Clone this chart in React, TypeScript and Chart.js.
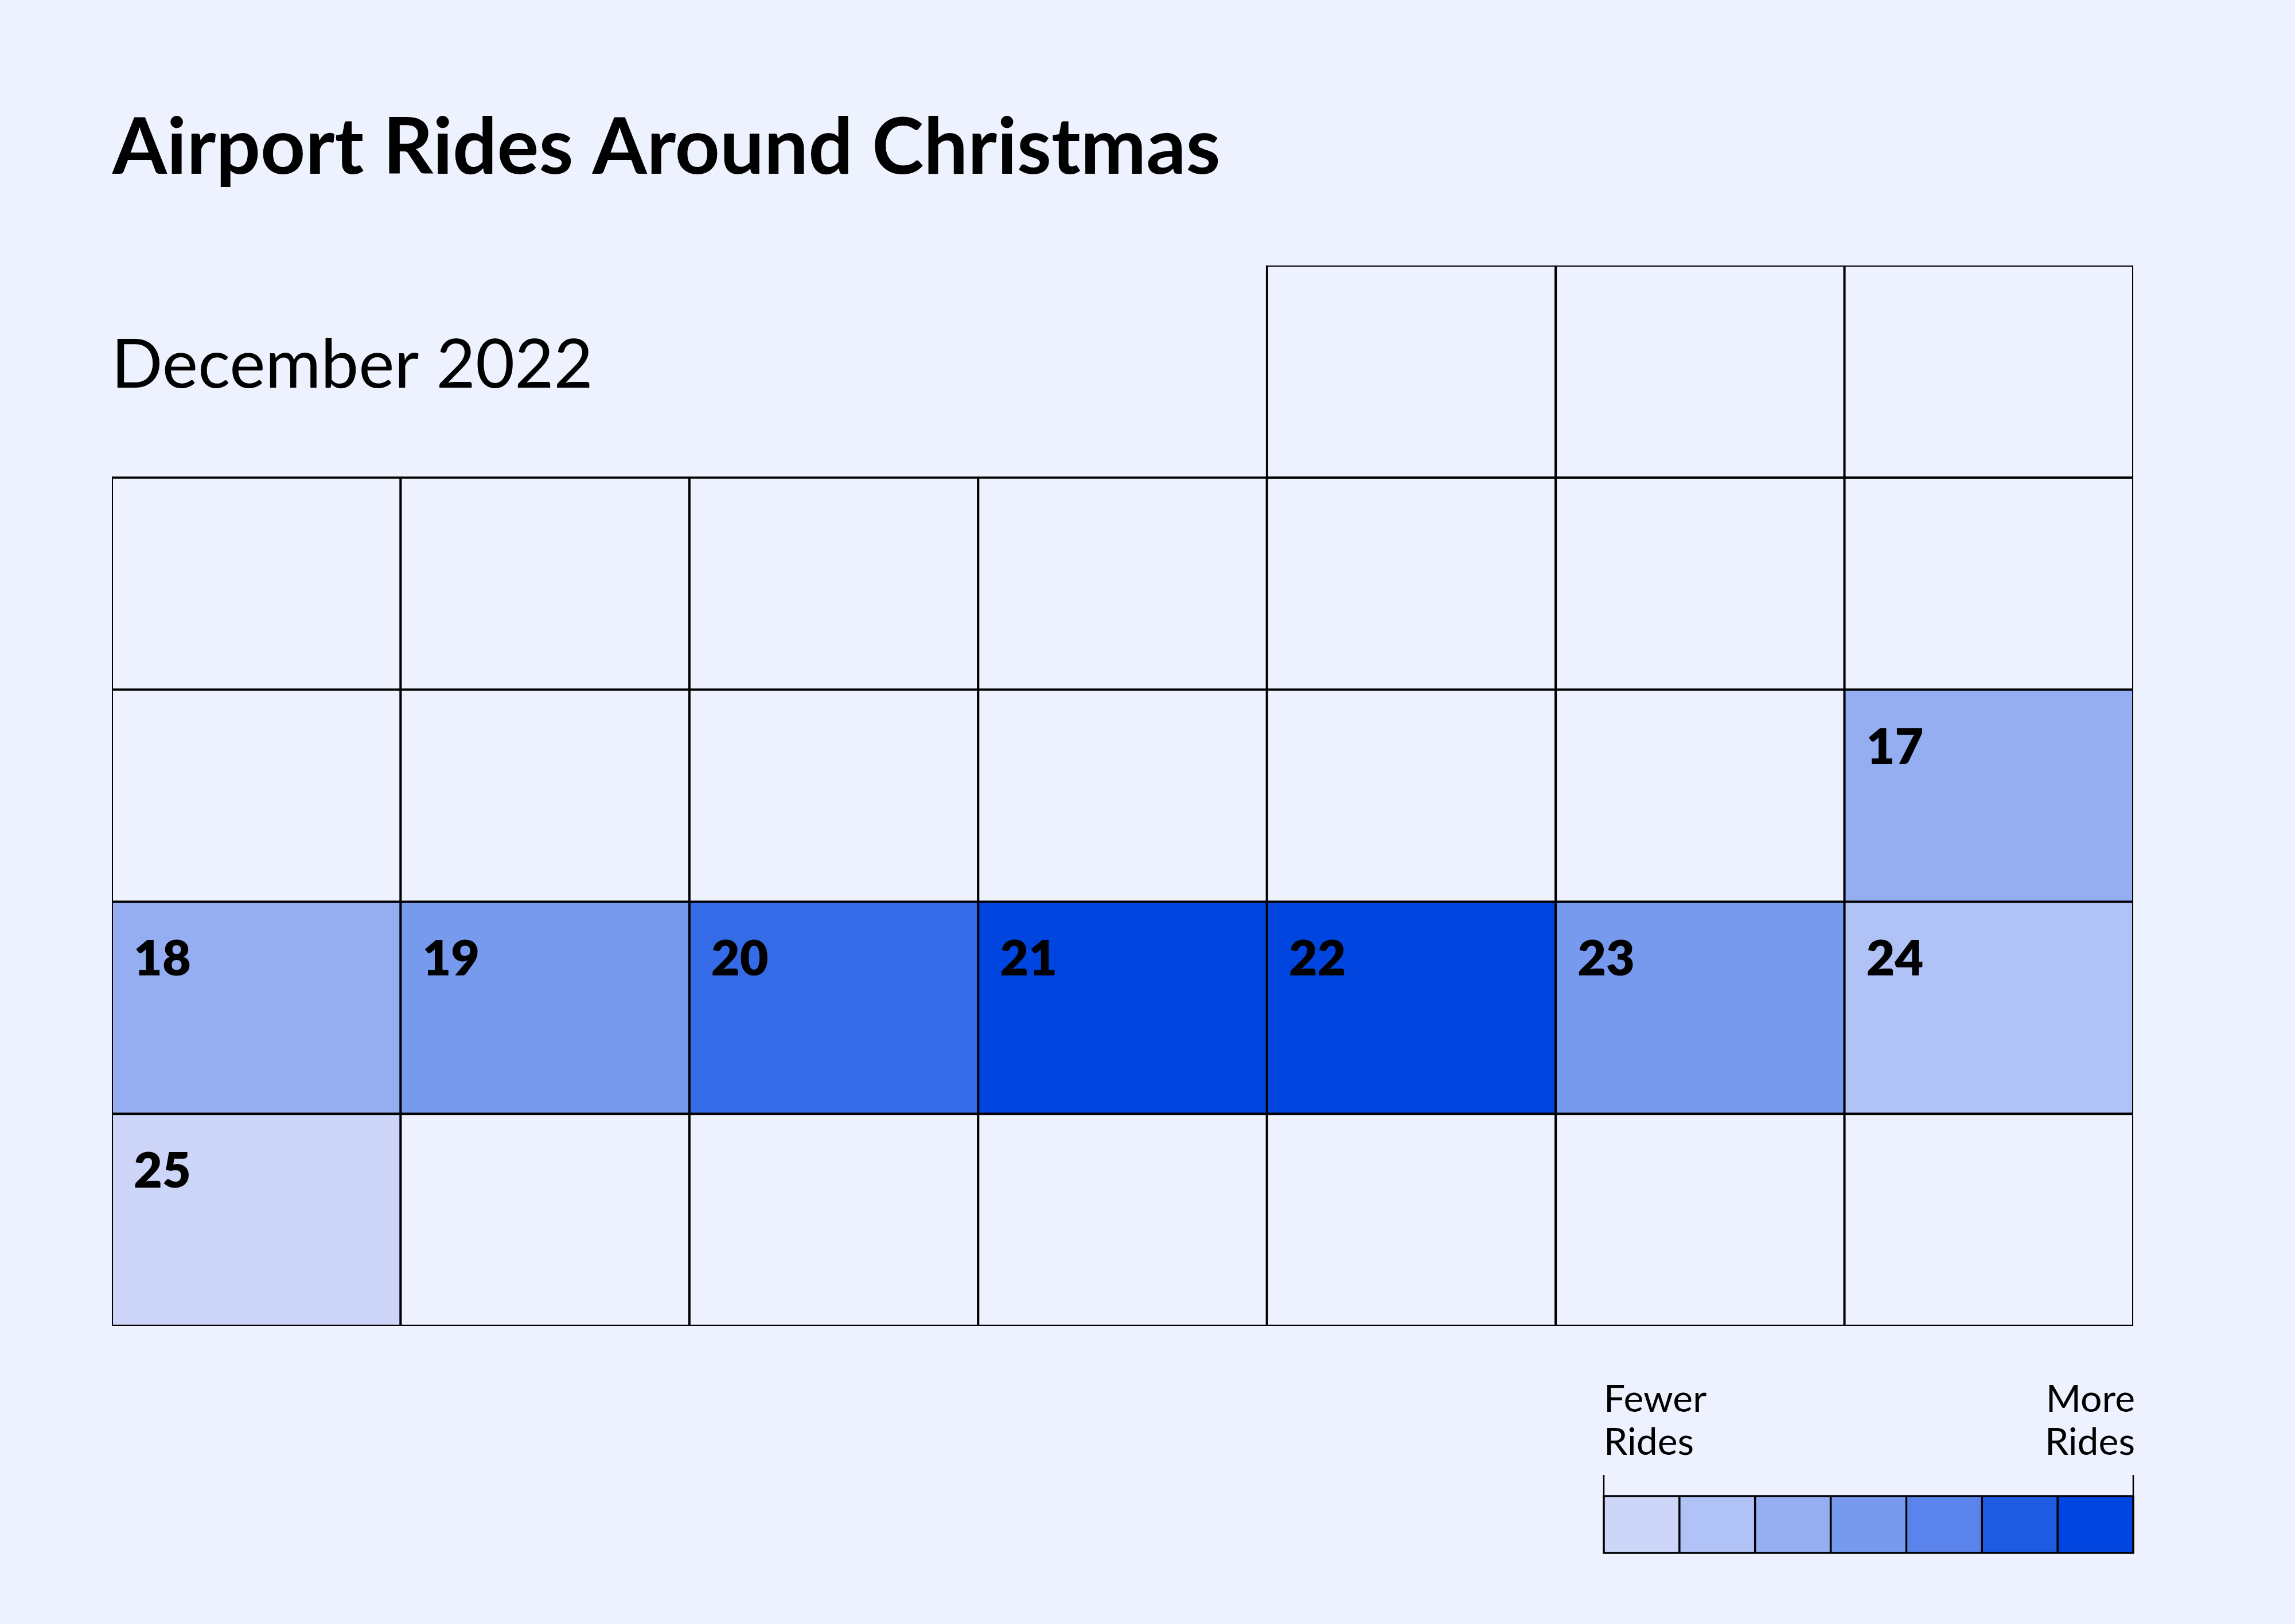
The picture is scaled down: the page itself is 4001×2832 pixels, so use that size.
import React, { useEffect, useRef } from "react";
import { Chart, registerables } from "chart.js";
Chart.register(...registerables);

const weekdays = ["Sun", "Mon", "Tue", "Wed", "Thu", "Fri", "Sat"];
const chartTitle = "Airport Rides Around Christmas";
const monthTitle = "December 2022";
const firstWeekday = 4; // 1 Dec 2022 = Thursday
const daysInMonth = 31;
const weeksShown = 5;
const highlightedDays = [17, 18, 19, 20, 21, 22, 23, 24, 25];
const rideLevels = [3, 3, 4, 5.6, 7, 7, 4, 2, 1]; // 1 = fewest rides, 7 = most rides
const legendColors = ["#CDD5F9", "#B0C2F6", "#94AEF1", "#7799EE", "#5A84EB", "#1D5BE3", "#0045DF"];
const legendLow = ["Fewer", "Rides"];
const legendHigh = ["More", "Rides"];

const BG = "#EEF2FE";
const FONT = "Lato, 'Open Sans', sans-serif";

function dayFor(week: number, wd: number) {
  const d = week * 7 + wd - firstWeekday + 1;
  return d >= 1 && d <= daysInMonth ? d : null;
}

function hexToRgb(h: string) {
  const n = parseInt(h.slice(1), 16);
  return [(n >> 16) & 255, (n >> 8) & 255, n & 255];
}

function levelColor(level: number) {
  const t = Math.max(0, Math.min(legendColors.length - 1, level - 1));
  const i = Math.min(Math.floor(t), legendColors.length - 2);
  const f = t - i;
  const a = hexToRgb(legendColors[i]);
  const b = hexToRgb(legendColors[i + 1]);
  const c = a.map((v, k) => Math.round(v + (b[k] - v) * f));
  return `rgb(${c[0]},${c[1]},${c[2]})`;
}

function fitFont(ctx: CanvasRenderingContext2D, text: string, weight: string, base: number, target: number) {
  ctx.font = `${weight} ${base}px ${FONT}`;
  const w = ctx.measureText(text).width;
  const size = base * target / w;
  return `${weight} ${size}px ${FONT}`;
}

export default function App() {
  const ref = useRef<HTMLCanvasElement>(null);
  useEffect(() => {
    const canvas = ref.current!;
    const datasets = [];
    for (let w = 0; w < weeksShown; w++) {
      datasets.push({
        label: `Week ${w + 1}`,
        data: weekdays.map((_, d) => (dayFor(w, d) !== null ? [w, w + 1] : null)),
        backgroundColor: (c: any) => {
          const day = dayFor(c.datasetIndex, c.dataIndex);
          const idx = day === null ? -1 : highlightedDays.indexOf(day);
          return idx < 0 ? BG : levelColor(rideLevels[idx]);
        },
        borderColor: "#000000",
        borderWidth: 4,
        borderSkipped: false,
        inflateAmount: 2,
        barPercentage: 1,
        categoryPercentage: 1,
        grouped: false,
      });
    }

    const decor = {
      id: "decor",
      beforeDraw(chart: any) {
        const ctx = chart.ctx;
        ctx.save();
        ctx.fillStyle = BG;
        ctx.fillRect(0, 0, chart.width, chart.height);
        ctx.restore();
      },
      afterDatasetsDraw(chart: any) {
        const ctx = chart.ctx;
        ctx.save();
        ctx.fillStyle = "#000";
        ctx.textBaseline = "alphabetic";
        ctx.textAlign = "left";
        ctx.font = `800 86px ${FONT}`;
        chart.data.datasets.forEach((ds: any, di: number) => {
          const meta = chart.getDatasetMeta(di);
          meta.data.forEach((el: any, i: number) => {
            const day = dayFor(di, i);
            if (day === null || highlightedDays.indexOf(day) < 0) return;
            const left = el.x - el.width / 2;
            const top = Math.min(el.y, el.base);
            ctx.fillText(String(day), left + 38, top + 129);
          });
        });
        ctx.restore();
      },
      afterDraw(chart: any) {
        const ctx = chart.ctx;
        ctx.save();
        ctx.fillStyle = "#000";
        ctx.textAlign = "left";
        ctx.textBaseline = "alphabetic";
        ctx.font = fitFont(ctx, chartTitle, "700", 122, 1932);
        ctx.fillText(chartTitle, 196, 303);
        ctx.font = fitFont(ctx, monthTitle, "400", 110, 840);
        ctx.fillText(monthTitle, 194, 676);

        // legend
        const lx0 = 2796, lx1 = 3719, ly0 = 2609, ly1 = 2708;
        const bw = (lx1 - lx0) / legendColors.length;
        legendColors.forEach((c, i) => {
          ctx.fillStyle = c;
          ctx.fillRect(lx0 + i * bw, ly0, bw, ly1 - ly0);
        });
        ctx.strokeStyle = "#000";
        ctx.lineWidth = 3.5;
        ctx.beginPath();
        for (let i = 0; i <= legendColors.length; i++) {
          const x = lx0 + i * bw;
          ctx.moveTo(x, ly0);
          ctx.lineTo(x, ly1);
        }
        ctx.moveTo(lx0 - 1.75, ly0);
        ctx.lineTo(lx1 + 1.75, ly0);
        ctx.moveTo(lx0 - 1.75, ly1);
        ctx.lineTo(lx1 + 1.75, ly1);
        ctx.stroke();
        ctx.lineWidth = 2.5;
        ctx.beginPath();
        ctx.moveTo(lx0, 2572);
        ctx.lineTo(lx0, ly0);
        ctx.moveTo(lx1, 2572);
        ctx.lineTo(lx1, ly0);
        ctx.stroke();

        ctx.fillStyle = "#000";
        ctx.font = `400 66px ${FONT}`;
        ctx.textAlign = "left";
        ctx.fillText(legendLow[0], lx0, 2462);
        ctx.fillText(legendLow[1], lx0, 2537);
        ctx.textAlign = "right";
        ctx.fillText(legendHigh[0], lx1 + 3, 2462);
        ctx.fillText(legendHigh[1], lx1 + 3, 2537);
        ctx.restore();
      },
    };

    const chart = new Chart(canvas, {
      type: "bar",
      data: { labels: weekdays, datasets: datasets as any },
      options: {
        animation: false,
        responsive: false,
        devicePixelRatio: 1,
        layout: { padding: { left: 195, right: 4001 - 3719, top: 463, bottom: 2832 - 2312 } },
        plugins: { legend: { display: false }, tooltip: { enabled: false }, title: { display: false } },
        scales: {
          x: { type: "category", display: false, grid: { display: false } },
          y: { type: "linear", min: 0, max: weeksShown, reverse: true, display: false, grid: { display: false } },
        },
      } as any,
      plugins: [decor],
    });
    return () => chart.destroy();
  }, []);

  return (
    <div style={{ position: "fixed", left: 0, top: 0, width: 4001, height: 2832, background: BG }}>
      <canvas ref={ref} width={4001} height={2832} style={{ display: "block", width: 4001, height: 2832 }} />
    </div>
  );
}
